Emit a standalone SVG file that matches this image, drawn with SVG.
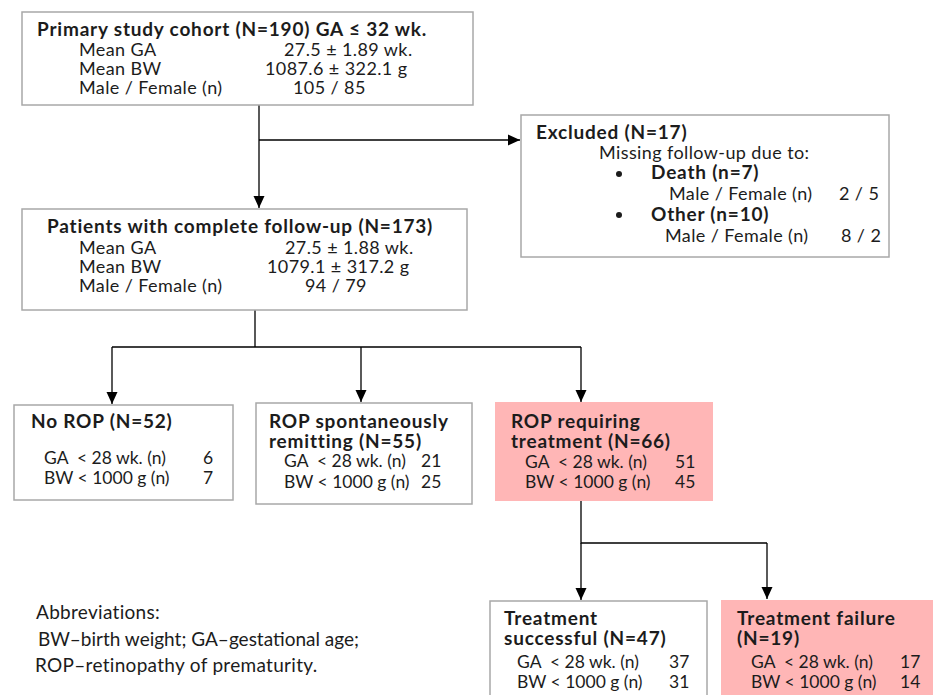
<svg xmlns="http://www.w3.org/2000/svg" width="933" height="695" viewBox="0 0 933 695">
<style>
text{font-family:Lato,"Open Sans","Liberation Sans",sans-serif;font-size:18px;letter-spacing:0.4px;fill:#1c1c1c}
.b{font-weight:bold;font-size:19px;letter-spacing:0.8px}
.r{font-size:17.5px;letter-spacing:0}
.ab{font-size:19px;letter-spacing:0.3px}
.box{fill:#fff;stroke:#a8a8a8;stroke-width:1.5}
.pink{fill:#ffb6b6;stroke:none}
.c{fill:none;stroke:#000;stroke-width:1.3}
</style>
<defs>
<marker id="ah" markerUnits="userSpaceOnUse" markerWidth="12" markerHeight="12" viewBox="0 0 12 12" refX="12" refY="6" orient="auto">
<path d="M0,0.5 L12,6 L0,11.5 Z" fill="#000"/>
</marker>
</defs>
<rect width="933" height="695" fill="#fff"/>
<g id="connectors">
<path class="c" d="M259,105 V208" marker-end="url(#ah)"/>
<path class="c" d="M259,140 H520" marker-end="url(#ah)"/>
<path class="c" d="M255,310 V347 M112,347 H581"/>
<path class="c" d="M112,347 V404" marker-end="url(#ah)"/>
<path class="c" d="M361,347 V402" marker-end="url(#ah)"/>
<path class="c" d="M581,347 V402" marker-end="url(#ah)"/>
<path class="c" d="M581,501 V543 H767"/>
<path class="c" d="M581,543 V600" marker-end="url(#ah)"/>
<path class="c" d="M767,543 V599" marker-end="url(#ah)"/>
</g>
<g id="primary">
<rect class="box" x="22" y="12" width="451" height="93"/>
<text class="b" x="37" y="36">Primary study cohort (N=190) GA ≤ 32 wk.</text>
<text x="79" y="56">Mean GA</text><text x="284" y="56">27.5 ± 1.89 wk.</text>
<text x="79" y="75">Mean BW</text><text x="265" y="75">1087.6 ± 322.1 g</text>
<text x="79" y="94">Male / Female (n)</text><text x="293" y="94">105 / 85</text>
</g>
<g id="excluded">
<rect class="box" x="521" y="115" width="368" height="142"/>
<text class="b" x="536" y="139">Excluded (N=17)</text>
<text x="599" y="159">Missing follow-up due to:</text>
<circle cx="619" cy="174" r="3" fill="#1c1c1c"/>
<text class="b" x="651" y="179">Death (n=7)</text>
<text x="669" y="200">Male / Female (n)</text><text x="839" y="200">2 / 5</text>
<circle cx="619" cy="215" r="3" fill="#1c1c1c"/>
<text class="b" x="651" y="221">Other (n=10)</text>
<text x="665" y="242">Male / Female (n)</text><text x="841" y="242">8 / 2</text>
</g>
<g id="complete">
<rect class="box" x="22" y="209" width="445" height="101"/>
<text class="b" x="47" y="233">Patients with complete follow-up (N=173)</text>
<text x="79" y="254">Mean GA</text><text x="285" y="254">27.5 ± 1.88 wk.</text>
<text x="79" y="273">Mean BW</text><text x="267" y="273">1079.1 ± 317.2 g</text>
<text x="79" y="292">Male / Female (n)</text><text x="305" y="292">94 / 79</text>
</g>
<g id="norop">
<rect class="box" x="14" y="405" width="219" height="95"/>
<text class="b" x="31" y="428">No ROP (N=52)</text>
<text class="r" x="44" y="464" xml:space="preserve">GA  &lt; 28 wk. (n)</text><text class="r" x="203" y="464">6</text>
<text class="r" x="44" y="484">BW &lt; 1000 g (n)</text><text class="r" x="203" y="484">7</text>
</g>
<g id="spont">
<rect class="box" x="256" y="403" width="216" height="101"/>
<text class="b" x="269" y="428">ROP spontaneously</text>
<text class="b" x="269" y="448">remitting (N=55)</text>
<text class="r" x="284" y="467" xml:space="preserve">GA  &lt; 28 wk. (n)</text><text class="r" x="421" y="467">21</text>
<text class="r" x="284" y="488">BW &lt; 1000 g (n)</text><text class="r" x="421" y="488">25</text>
</g>
<g id="requiring">
<rect class="pink" x="495" y="402" width="218" height="99"/>
<text class="b" x="511" y="428">ROP requiring</text>
<text class="b" x="511" y="448">treatment (N=66)</text>
<text class="r" x="525" y="468" xml:space="preserve">GA  &lt; 28 wk. (n)</text><text class="r" x="675" y="468">51</text>
<text class="r" x="525" y="488">BW &lt; 1000 g (n)</text><text class="r" x="675" y="488">45</text>
</g>
<g id="successful">
<rect class="box" x="490" y="601" width="217" height="100"/>
<text class="b" x="504" y="625">Treatment</text>
<text class="b" x="504" y="645">successful (N=47)</text>
<text class="r" x="517" y="668" xml:space="preserve">GA  &lt; 28 wk. (n)</text><text class="r" x="669" y="668">37</text>
<text class="r" x="517" y="688">BW &lt; 1000 g (n)</text><text class="r" x="669" y="688">31</text>
</g>
<g id="failure">
<rect class="pink" x="721" y="600" width="212" height="100"/>
<text class="b" x="737" y="625">Treatment failure</text>
<text class="b" x="737" y="645">(N=19)</text>
<text class="r" x="751" y="668" xml:space="preserve">GA  &lt; 28 wk. (n)</text><text class="r" x="900" y="668">17</text>
<text class="r" x="751" y="688">BW &lt; 1000 g (n)</text><text class="r" x="900" y="688">14</text>
</g>
<g id="abbreviations">
<text class="ab" x="36" y="619">Abbreviations:</text>
<text class="ab" x="38" y="646" style="letter-spacing:0">BW–birth weight; GA–gestational age;</text>
<text class="ab" x="35" y="672">ROP–retinopathy of prematurity.</text>
</g>
</svg>
